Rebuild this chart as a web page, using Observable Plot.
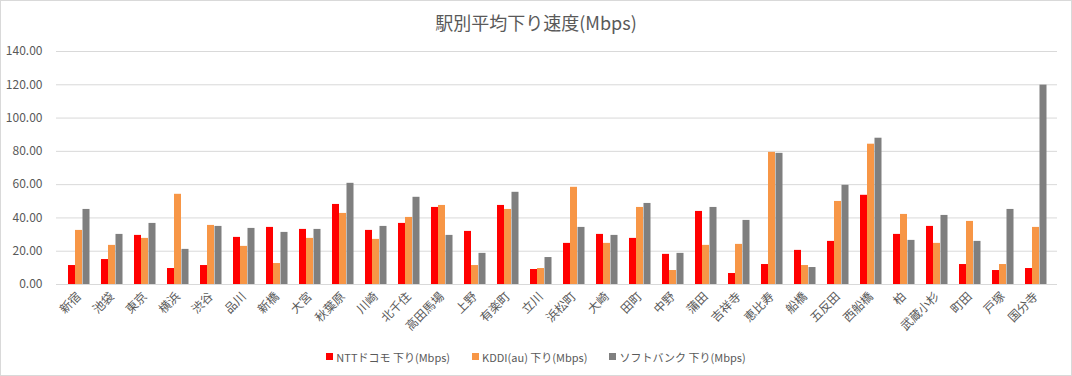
<!DOCTYPE html>
<html><head><meta charset="utf-8">
<script src="https://cdn.jsdelivr.net/npm/d3@7"></script>
<script src="https://cdn.jsdelivr.net/npm/@observablehq/plot@0.6"></script>
<style>
body{margin:0;background:#fff;}
#chart{position:relative;width:1072px;height:376px;overflow:hidden;font-family:"Noto Sans CJK JP",sans-serif;color:#595959;background:#fff;}
#title{height:40px;line-height:45px;text-align:center;font-size:18px;white-space:nowrap;padding-left:0px;}
#plot{height:300px;}
#legend{position:absolute;left:0;top:340px;width:1072px;height:33px;display:flex;justify-content:center;align-items:center;gap:22px;font-size:11px;}
.item{display:flex;align-items:center;white-space:nowrap;}
.sw{width:7px;height:7px;margin-right:3px;}
#frame{position:absolute;left:0;top:0;right:0;bottom:0;border:1px solid #d9d9d9;pointer-events:none;}
</style></head>
<body><div id="chart"><div id="title">駅別平均下り速度(Mbps)</div><div id="plot"></div><div id="legend"></div><div id="frame"></div></div>
<script>
const stations = ["新宿","池袋","東京","横浜","渋谷","品川","新橋","大宮","秋葉原","川崎","北千住","高田馬場","上野","有楽町","立川","浜松町","大崎","田町","中野","蒲田","吉祥寺","恵比寿","船橋","五反田","西船橋","柏","武蔵小杉","町田","戸塚","国分寺"];
const ntt = [11.4,15.0,29.5,9.6,11.4,28.3,34.3,33.1,48.1,32.5,36.7,46.3,31.9,47.5,9.0,24.7,30.1,27.7,18.1,43.9,6.6,12.0,20.5,25.9,53.6,30.1,34.9,12.0,8.4,9.6];
const kddi = [32.5,23.5,27.7,54.2,35.5,22.9,12.6,27.7,42.7,27.1,40.3,47.5,11.4,45.1,9.6,58.4,24.7,46.3,8.4,23.5,24.1,79.4,11.4,49.9,84.3,42.1,24.7,37.9,12.0,34.3];
const softbank = [45.1,30.1,36.7,21.1,34.9,33.7,31.3,33.1,60.8,34.9,52.4,29.5,18.7,55.4,16.2,34.3,29.5,48.7,18.7,46.3,38.5,78.8,10.2,59.6,87.9,26.5,41.5,25.9,45.1,119.8];
const seriesNames = ["NTTドコモ 下り(Mbps)","KDDI(au) 下り(Mbps)","ソフトバンク 下り(Mbps)"];
const seriesColors = ["#FF0000","#F79646","#7F7F7F"];
const yTicks = [0,20,40,60,80,100,120,140];

const rows = (vals) => stations.map((s, i) => ({station: s, value: vals[i]}));
const offsets = [-7, 0, 7.5];
const seriesValues = [ntt, kddi, softbank];

const chart = Plot.plot({
  width: 1072, height: 300,
  marginTop: 11, marginBottom: 56, marginLeft: 56, marginRight: 15,
  style: {background: "transparent", fontFamily: "'Noto Sans CJK JP', sans-serif", fontSize: "12px", color: "#595959"},
  x: {domain: stations, paddingInner: 0.79, paddingOuter: 0.395, label: null},
  y: {domain: [0, 140], label: null},
  marks: [
    Plot.ruleY(yTicks, {stroke: "#d9d9d9", strokeWidth: 1}),
    ...seriesValues.map((vals, k) => Plot.barY(rows(vals), {x: "station", y: "value", fill: seriesColors[k], dx: offsets[k]})),
    Plot.axisY(yTicks, {tickSize: 0, tickPadding: 14, tickFormat: d3.format(".2f"), label: null}),
    Plot.axisX({tickSize: 0, tickPadding: 10, tickRotate: -45, label: null})
  ]
});
document.getElementById("plot").appendChild(chart);

const legend = document.getElementById("legend");
seriesNames.forEach((n, k) => {
  const item = document.createElement("div");
  item.className = "item";
  const sw = document.createElement("span");
  sw.className = "sw";
  sw.style.background = seriesColors[k];
  const t = document.createElement("span");
  t.textContent = n;
  item.appendChild(sw); item.appendChild(t);
  legend.appendChild(item);
});
</script>
</body></html>
